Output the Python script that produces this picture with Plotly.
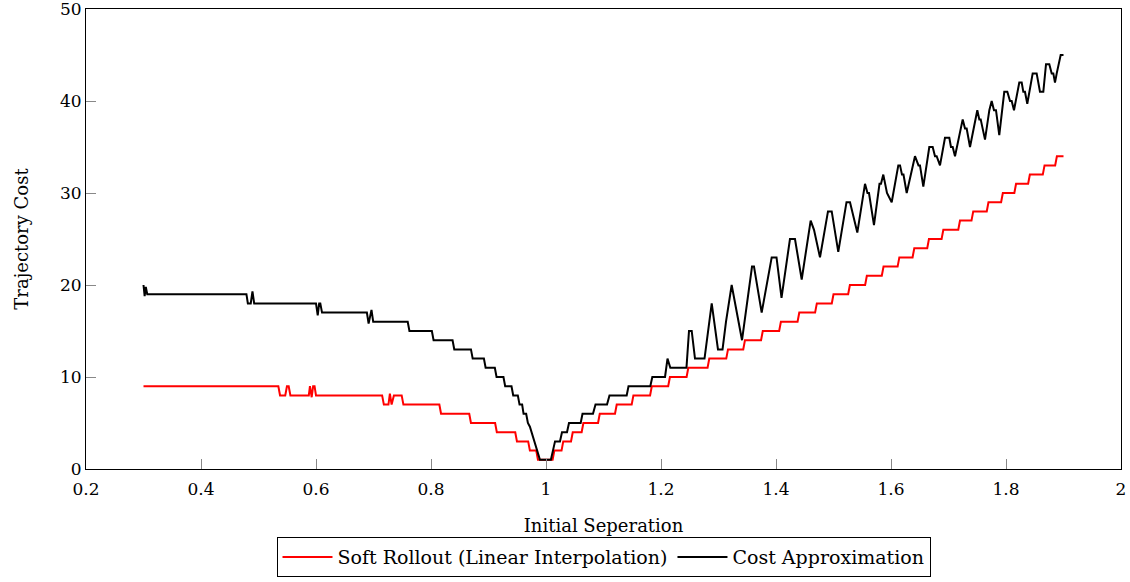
import plotly.graph_objects as go

# ---- data (vertices of each polyline) ----
soft_x = [0.300, 0.5345, 0.5375, 0.5465, 0.5495, 0.5525, 0.5555,
          0.5875, 0.5895, 0.5925, 0.5950, 0.5975, 0.6000,
          0.7150, 0.7180, 0.7260, 0.7285, 0.7315, 0.7355, 0.7490, 0.7520,
          0.8145, 0.8175, 0.8665, 0.8695, 0.9115, 0.9145, 0.9465, 0.9495,
          0.9690, 0.9720, 0.9830, 0.9860, 1.0115, 1.0145,
          1.0270, 1.0300, 1.0435, 1.0465, 1.0620, 1.0650, 1.0905, 1.0935,
          1.1200, 1.1230, 1.1490, 1.1520, 1.1810, 1.1840, 1.2125, 1.2155,
          1.2445, 1.2475, 1.2810, 1.2840, 1.3135, 1.3165, 1.3430, 1.3460,
          1.3740, 1.3770, 1.4055, 1.4085, 1.4375, 1.4405, 1.4680, 1.4710,
          1.4970, 1.5000, 1.5255, 1.5285, 1.5550, 1.5580, 1.5840, 1.5870,
          1.6115, 1.6145, 1.6375, 1.6405, 1.6630, 1.6660, 1.6880, 1.6910,
          1.7170, 1.7200, 1.7400, 1.7430, 1.7665, 1.7695, 1.7915, 1.7945,
          1.8145, 1.8175, 1.8385, 1.8415, 1.8640, 1.8670, 1.8855, 1.8885,
          1.9000]
soft_y = [9, 9, 8, 8, 9, 9, 8,
          8, 9, 7.8, 9, 9, 8,
          8, 7, 7, 8.2, 7, 8, 8, 7,
          7, 6, 6, 5, 5, 4, 4, 3,
          3, 2, 2, 1, 1, 2,
          2, 3, 3, 4, 4, 5, 5, 6,
          6, 7, 7, 8, 8, 9, 9, 10,
          10, 11, 11, 12, 12, 13, 13, 14,
          14, 15, 15, 16, 16, 17, 17, 18,
          18, 19, 19, 20, 20, 21, 21, 22,
          22, 23, 23, 24, 24, 25, 25, 26,
          26, 27, 27, 28, 28, 29, 29, 30,
          30, 31, 31, 32, 32, 33, 33, 34,
          34]

cost_x = [0.300, 0.302, 0.304, 0.3065,
          0.479, 0.4815, 0.4865, 0.4895, 0.4925,
          0.600, 0.603, 0.6055, 0.6075, 0.6105,
          0.6885, 0.6915, 0.6965, 0.6995,
          0.7595, 0.7625, 0.8015, 0.8045, 0.8375, 0.8405, 0.8695, 0.8725,
          0.892, 0.895, 0.911, 0.914, 0.926, 0.929, 0.940, 0.943,
          0.951, 0.954, 0.9585, 0.961, 0.9655, 0.9685, 0.972, 0.9895,
          1.0085, 1.0157, 1.0243, 1.0278, 1.0365, 1.0400, 1.0603, 1.0635,
          1.0817, 1.0861, 1.1061, 1.1104, 1.1403, 1.1435, 1.1814, 1.1849,
          1.2070, 1.2113, 1.2162, 1.2443, 1.2487, 1.2534, 1.2591, 1.2757,
          1.2882, 1.2991, 1.3070, 1.3130, 1.3229, 1.3409, 1.3583, 1.3617,
          1.3751, 1.3925, 1.4009, 1.4096, 1.4243, 1.4330, 1.4447, 1.4603,
          1.4661, 1.4765, 1.4904, 1.4969, 1.5083, 1.5226, 1.5287, 1.5357,
          1.5414, 1.5548, 1.5591, 1.5617, 1.5704, 1.5800, 1.5826, 1.5866,
          1.5930, 1.6012, 1.6127, 1.6157, 1.6191, 1.6217, 1.6273, 1.6417,
          1.6478, 1.6504, 1.6562, 1.6666, 1.6725, 1.6765, 1.6794, 1.6852,
          1.6939, 1.7014, 1.7043, 1.7073, 1.7113, 1.7247, 1.7287, 1.7316,
          1.7374, 1.7501, 1.7536, 1.7560, 1.7635, 1.7710, 1.7751, 1.7791,
          1.7826, 1.7883, 1.7970, 1.8023, 1.8070, 1.8099, 1.8139, 1.8231,
          1.8273, 1.8301, 1.8330, 1.8370, 1.8464, 1.8533, 1.8591, 1.8649,
          1.8696, 1.8753, 1.8795, 1.8823, 1.8852, 1.8882, 1.8951, 1.9000]
cost_y = [20, 18.8, 19.8, 19,
          19, 18, 18, 19.3, 18,
          18, 16.7, 18, 18, 17,
          17, 15.8, 17.3, 16,
          16, 15, 15, 14, 14, 13, 13, 12,
          12, 11, 11, 10, 10, 9, 9, 8,
          8, 7, 7, 6, 6, 5, 4.6, 1,
          1, 3, 3, 4, 4, 5, 5, 6,
          6, 7, 7, 8, 8, 9, 9, 10,
          10, 12, 11, 11, 15, 15, 12, 12,
          18, 13, 13, 16, 20, 14, 22, 22,
          17, 23, 23, 18.6, 25, 25, 20.6, 27,
          26, 23, 28, 28, 23.6, 29, 29, 27,
          25.7, 31, 30, 30, 26.5, 31, 31, 32,
          30, 29, 33, 33, 32, 32, 30, 34,
          33, 33, 30.7, 35, 35, 34, 34, 33,
          36, 36, 35, 35, 34, 38, 37, 37,
          35, 39, 38, 38, 35.8, 39, 40, 39,
          39, 36.3, 41, 41, 40, 40, 39, 42,
          42, 41, 41, 39.7, 43, 43, 41, 41,
          44, 44, 43, 43, 42, 43, 45, 45]

x_ticks = [0.2, 0.4, 0.6, 0.8, 1.0, 1.2, 1.4, 1.6, 1.8, 2.0]
x_tick_labels = ["0.2", "0.4", "0.6", "0.8", "1", "1.2", "1.4", "1.6", "1.8", "2"]
y_ticks = [0, 10, 20, 30, 40, 50]

FONT = "DejaVu Serif"

fig = go.Figure()
fig.add_trace(go.Scatter(x=soft_x, y=soft_y, mode="lines",
                         name="Soft Rollout (Linear Interpolation)",
                         line=dict(color="#ff0000", width=2)))
fig.add_trace(go.Scatter(x=cost_x, y=cost_y, mode="lines",
                         name="Cost Approximation",
                         line=dict(color="#000000", width=2)))

fig.update_layout(
    width=1130, height=582,
    margin=dict(l=86, r=9, t=9, b=113, autoexpand=False),
    paper_bgcolor="white", plot_bgcolor="white",
    font=dict(family=FONT, size=17, color="black"),
    showlegend=True,
    legend=dict(orientation="h", x=0.5, xanchor="center", y=-0.148, yanchor="top",
                bordercolor="black", borderwidth=1, bgcolor="white",
                font=dict(family=FONT, size=19), itemwidth=50,
                tracegroupgap=0),
)
fig.update_xaxes(range=[0.2, 2.0], tickvals=x_ticks, ticktext=x_tick_labels,
                 showgrid=False, zeroline=False, automargin=False,
                 ticklabeloverflow="allow", ticklabelstandoff=5,
                 showline=True, linecolor="black", linewidth=1, mirror=True,
                 ticks="inside", ticklen=10, tickcolor="#888888", tickwidth=1,
                 tickfont=dict(family=FONT, size=17),
                 title=dict(text="Initial Seperation", font=dict(family=FONT, size=18), standoff=20))
fig.update_yaxes(range=[0, 50], tickvals=y_ticks,
                 showgrid=False, zeroline=False, automargin=False,
                 ticklabeloverflow="allow",
                 showline=True, linecolor="black", linewidth=1, mirror=True,
                 ticks="inside", ticklen=10, tickcolor="#888888", tickwidth=1,
                 tickfont=dict(family=FONT, size=17),
                 title=dict(text="Trajectory Cost", font=dict(family=FONT, size=18), standoff=26))

fig.write_html("out.html")
